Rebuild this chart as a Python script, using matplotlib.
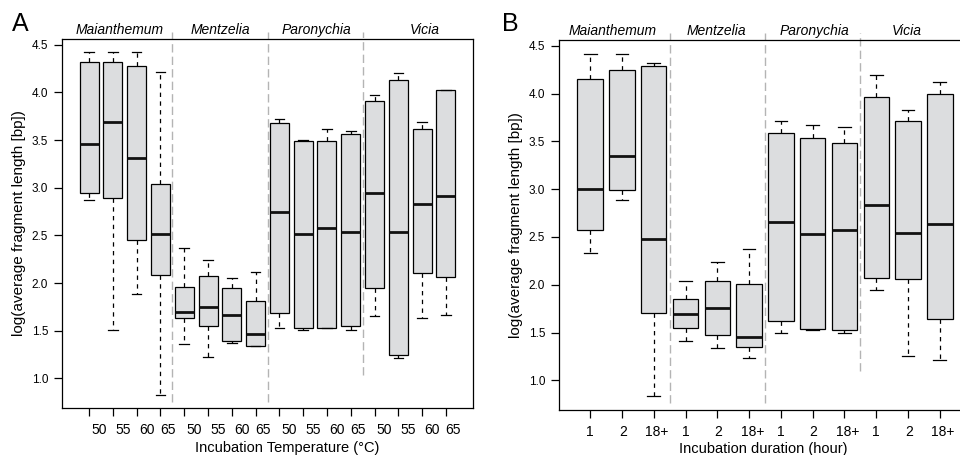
import numpy as np
import matplotlib
matplotlib.use('Agg')
import matplotlib.pyplot as plt
import matplotlib.transforms as mtransforms

plt.rcParams['font.family'] = ['Liberation Sans', 'DejaVu Sans']

# Datos
genera = ['Maianthemum', 'Mentzelia', 'Paronychia', 'Vicia']
temp_labels = ['50', '55', '60', '65']
dur_labels = ['1', '2', '18+']

# Panel A: temperatura (4 generos x 4 temperaturas)
a_whishi = [4.42, 4.42, 4.42, 4.21, 2.37, 2.24, 2.05, 2.12,
            3.72, 3.50, 3.62, 3.59, 3.97, 4.20, 3.69, 4.03]
a_q3 = [4.32, 4.32, 4.28, 3.04, 1.96, 2.07, 1.95, 1.81,
        3.68, 3.49, 3.49, 3.56, 3.91, 4.13, 3.62, 4.03]
a_med = [3.46, 3.69, 3.31, 2.51, 1.70, 1.75, 1.67, 1.47,
         2.75, 2.51, 2.58, 2.54, 2.94, 2.54, 2.83, 2.91]
a_q1 = [2.94, 2.89, 2.45, 2.09, 1.63, 1.55, 1.39, 1.34,
        1.69, 1.53, 1.53, 1.55, 1.95, 1.25, 2.11, 2.06]
a_whislo = [2.87, 1.51, 1.89, 0.83, 1.36, 1.23, 1.37, 1.34,
            1.53, 1.51, 1.53, 1.51, 1.65, 1.21, 1.63, 1.67]

# Panel B: duracion (4 generos x 3 duraciones)
b_whishi = [4.41, 4.41, 4.32, 2.04, 2.24, 2.37, 3.71, 3.67, 3.65, 4.19, 3.83, 4.12]
b_q3 = [4.15, 4.25, 4.29, 1.85, 2.04, 2.01, 3.59, 3.53, 3.48, 3.96, 3.71, 3.99]
b_med = [3.00, 3.35, 2.48, 1.69, 1.76, 1.45, 2.66, 2.53, 2.57, 2.83, 2.54, 2.64]
b_q1 = [2.57, 2.99, 1.70, 1.55, 1.47, 1.35, 1.62, 1.54, 1.53, 2.07, 2.06, 1.64]
b_whislo = [2.33, 2.89, 0.84, 1.41, 1.34, 1.23, 1.50, 1.53, 1.50, 1.95, 1.25, 1.21]


def make_stats(lo, q1, med, q3, hi):
    return [dict(whislo=a, q1=b, med=c, q3=d, whishi=e, fliers=[])
            for a, b, c, d, e in zip(lo, q1, med, q3, hi)]


def draw_panel(ax, stats, labels, label_off, genus_x, sep_bottoms, xlabel):
    n = len(stats)
    per = len(labels)
    pos = np.arange(1, n + 1)
    ax.bxp(stats, positions=pos, widths=0.8, patch_artist=True, showfliers=False,
           boxprops=dict(facecolor='#dcdddf', edgecolor='black', linewidth=0.9),
           medianprops=dict(color='#111111', linewidth=2.0, solid_capstyle='butt'),
           whiskerprops=dict(color='black', linewidth=0.9, linestyle=(0, (3.5, 3.5))),
           capprops=dict(color='black', linewidth=0.9))

    # separadores entre generos
    for k, yb in zip(range(1, len(genera)), sep_bottoms):
        ax.axvline(k * per + 0.5, ymin=yb, ymax=1.02, color='#b4b4b4', lw=1.0,
                   linestyle=(0, (6, 3)), clip_on=False, zorder=0)

    trans = mtransforms.blended_transform_factory(ax.transData, ax.transAxes)
    for g, gx in zip(genera, genus_x):
        ax.text(gx, 1.024, g, transform=trans, ha='center', va='center',
                style='italic', fontsize=10)

    ax.set_xlim(0.5 - 0.04 * n, n + 0.5 + 0.04 * n)
    ax.set_ylim(0.69, 4.56)
    ax.set_yticks(np.arange(1.0, 4.51, 0.5))
    ax.set_yticklabels(['%.1f' % v for v in np.arange(1.0, 4.51, 0.5)])
    ax.xaxis.remove_overlapping_locs = False
    ax.set_xticks(pos)
    ax.set_xticklabels([''] * n)
    ax.set_xticks(pos + np.tile(label_off, len(genera)), labels * len(genera), minor=True)
    ax.tick_params(axis='x', which='major', length=6, width=0.9, direction='out')
    ax.tick_params(axis='x', which='minor', length=0, pad=11, labelsize=10)
    ax.tick_params(axis='y', length=6, width=0.9, pad=4, labelsize=8.5)
    for s in ax.spines.values():
        s.set_linewidth(0.9)
    ax.set_xlabel(xlabel, fontsize=10.5)
    ax.set_ylabel('log(average fragment length [bp])', fontsize=11)
    ax.yaxis.set_label_coords(-0.087, 0.5)


fig = plt.figure(figsize=(9.6, 4.55), dpi=100)

axA = fig.add_axes([62 / 960, 47 / 455, 411 / 960, 369 / 455])
draw_panel(axA, make_stats(a_whislo, a_q1, a_med, a_q3, a_whishi), temp_labels,
           [0.42, 0.42, 0.42, 0.3], [2.26, 6.5, 10.55, 15.1], [0.016, 0.016, 0.09],
           'Incubation Temperature (°C)')
axA.xaxis.set_label_coords(0.547, -0.09)

axB = fig.add_axes([559 / 960, 45 / 455, 412 / 960, 370 / 455])
draw_panel(axB, make_stats(b_whislo, b_q1, b_med, b_q3, b_whishi), dur_labels,
           [0.0, 0.03, 0.1], [1.72, 4.96, 8.04, 10.97], [0.02, 0.02, 0.105],
           'Incubation duration (hour)')
axB.xaxis.set_label_coords(0.495, -0.086)

fig.text(20 / 960, 1 - 24 / 455, 'A', fontsize=18, ha='center', va='center')
fig.text(510 / 960, 1 - 24 / 455, 'B', fontsize=18, ha='center', va='center')

fig.savefig('out.png', dpi=100)
